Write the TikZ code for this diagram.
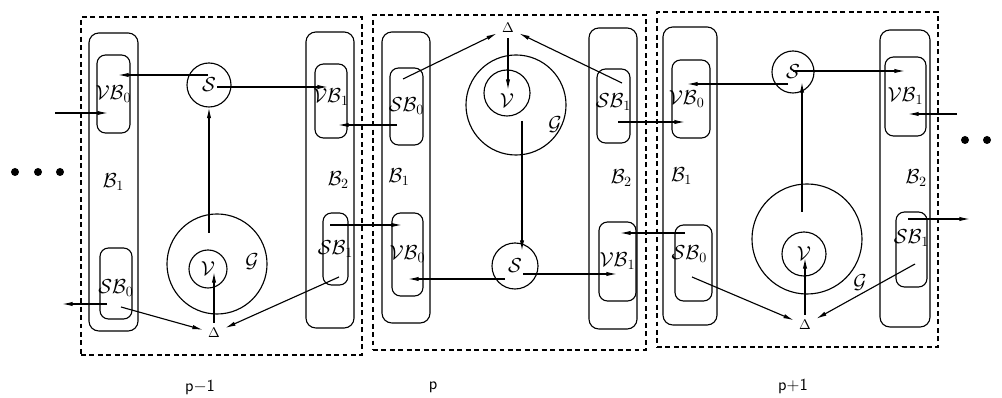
\documentclass[tikz,border=0pt]{standalone}
\usepackage{amsmath,amssymb}
\usepackage{tikz}
\usetikzlibrary{arrows.meta, fit}

\begin{document}
\begin{tikzpicture}[
    x=0.025cm, y=-0.025cm,
    line width=0.8pt,
    panel/.style={draw, dash pattern=on 3.5pt off 2.5pt, line width=0.9pt, inner sep=0pt},
    outer_box/.style={draw, rounded corners=7pt, inner sep=0pt},
    inner_box/.style={draw, rounded corners=6pt, inner sep=0pt},
    ring/.style={circle, draw, inner sep=0pt, minimum size=#1*0.05cm, font=\Large},
    tag/.style={font=\Large, inner sep=0pt},
    every label/.style={font=\Large, inner sep=0pt},
    arrow/.style={-{Latex[length=7.5pt,width=3pt]}},
    dot/.style={circle, fill, inner sep=0pt, minimum size=0.2cm},
    step_lbl/.style={font=\large\sffamily}
]
\useasboundingbox (0,0) rectangle (1002,398);
\clip (0,0) rectangle (1002,398);

% dots at both ends
\node[dot] (dl1) at (15,172) {};
\node[dot] (dl2) at (38,172) {};
\node[dot] (dl3) at (60,172) {};
\node[dot] (dr1) at (965,140) {};
\node[dot] (dr2) at (987,140) {};
\node[dot] (dr3) at (1006,140) {};

% panel p-1
\node[panel, fit={(81,17) (362,355)}] (Pa) {};
\node[outer_box, fit={(89,33) (138,331)}, label=center:{$\mathcal{B}_1$}] (B1a) {};
\node[outer_box, fit={(306,32) (354,328)}, label={[xshift=6pt]center:{$\mathcal{B}_2$}}] (B2a) {};
\node[inner_box, fit={(97,55) (130,133)}, label=center:{$\mathcal{VB}_0$}] (VB0a) {};
\node[inner_box, fit={(100,248) (132,319)}, label={[yshift=-3pt]center:{$\mathcal{SB}_0$}}] (SB0a) {};
\node[inner_box, fit={(315,64) (347,138)}, label={[yshift=3pt]center:{$\mathcal{VB}_1$}}] (VB1a) {};
\node[inner_box, fit={(323,213) (348,285)}, label=center:{$\mathcal{SB}_1$}] (SB1a) {};
\node[ring=22] (Sa) at (209,85) {$\mathcal{S}$};
\node[ring=50] (Ga) at (217,264) {};
\node[ring=19] (Va) at (208,269) {$\mathcal{V}$};
\node[tag] (ga_lbl) at (252,262) {$\mathcal{G}$};
\node (Da) at (214,333) {$\Delta$};
\node[step_lbl] (La) at (200,387) {p$-$1};

\coordinate (s_out0a) at (208,75);  \coordinate (vb0_ina) at (118,75);
\coordinate (s_out1a) at (217,87);  \coordinate (vb1_ina) at (328,87);
\coordinate (g_upa) at (209,233);
\coordinate (v_ina) at (214,272);
\coordinate (sb0_da) at (121,307);
\coordinate (sb1_da) at (339,277);
\coordinate (left_in) at (55,113);  \coordinate (vb0_lefta) at (108,113);
\coordinate (sb0_lefta) at (107,304); \coordinate (left_out) at (62,304);

\draw [arrow] (s_out0a) -- (vb0_ina);
\draw [arrow] (s_out1a) -- (vb1_ina);
\draw [arrow] (g_upa) -- (Sa.south);
\draw [arrow] (Da.north) -- (v_ina);
\draw [arrow] (sb0_da) -- (Da);
\draw [arrow] (sb1_da) -- (Da);
\draw [arrow] (left_in) -- (vb0_lefta);
\draw [arrow] (sb0_lefta) -- (left_out);

% panel p
\node[panel, fit={(373,15) (646,350)}] (Pb) {};
\node[outer_box, fit={(382,32) (430,323)}, label={[xshift=-5pt]center:{$\mathcal{B}_1$}}] (B1b) {};
\node[outer_box, fit={(589,28) (637,329)}, label={[xshift=6pt]center:{$\mathcal{B}_2$}}] (B2b) {};
\node[inner_box, fit={(390,68) (423,145)}, label=center:{$\mathcal{SB}_0$}] (SB0b) {};
\node[inner_box, fit={(392,213) (423,296)}, label=center:{$\mathcal{VB}_0$}] (VB0b) {};
\node[inner_box, fit={(597,69) (630,143)}, label={[yshift=3pt]center:{$\mathcal{SB}_1$}}] (SB1b) {};
\node[inner_box, fit={(599,222) (636,301)}, label=center:{$\mathcal{VB}_1$}] (VB1b) {};
\node (Db) at (508,28) {$\Delta$};
\node[ring=50] (Gb) at (516,105) {};
\node[ring=23] (Vb) at (507,93) {};
\node[tag] (vb_lbl) at (507,101) {$\mathcal{V}$};
\node[tag] (gb_lbl) at (555,125) {$\mathcal{G}$};
\node[ring=23] (Sb) at (515,266) {$\mathcal{S}$};
\node[step_lbl] (Lb) at (433,387) {p};

\coordinate (sb0_db) at (403,79);
\coordinate (sb1_db) at (622,83);
\coordinate (v_inb) at (508,90);
\coordinate (g_downb) at (522,121); \coordinate (s_inb) at (522,251);
\coordinate (s_out0b) at (505,279); \coordinate (vb0_inb) at (408,279);
\coordinate (s_out1b) at (523,274); \coordinate (vb1_inb) at (617,274);
\coordinate (sb0_outb) at (397,125); \coordinate (vb1_rta) at (338,125);
\coordinate (sb1_outa) at (330,225); \coordinate (vb0_ltb) at (402,225);
\coordinate (sb1_outb) at (618,122); \coordinate (vb0_ltc) at (685,122);
\coordinate (sb0_outc) at (685,233); \coordinate (vb1_rtb) at (620,233);

\draw [arrow] (sb0_db) -- (Db);
\draw [arrow] (sb1_db) -- (Db);
\draw [arrow] (Db.south) -- (v_inb);
\draw [arrow] (g_downb) -- (s_inb);
\draw [arrow] (s_out0b) -- (vb0_inb);
\draw [arrow] (s_out1b) -- (vb1_inb);
\draw [arrow] (sb0_outb) -- (vb1_rta);
\draw [arrow] (sb1_outa) -- (vb0_ltb);
\draw [arrow] (sb1_outb) -- (vb0_ltc);
\draw [arrow] (sb0_outc) -- (vb1_rtb);

% panel p+1
\node[panel, fit={(657,12) (938,347)}] (Pc) {};
\node[outer_box, fit={(663,27) (717,325)}, label={[xshift=-6pt]center:{$\mathcal{B}_1$}}] (B1c) {};
\node[outer_box, fit={(880,30) (930,327)}, label={[xshift=8pt]center:{$\mathcal{B}_2$}}] (B2c) {};
\node[inner_box, fit={(672,60) (710,138)}, label={[xshift=-3pt]center:{$\mathcal{VB}_0$}}] (VB0c) {};
\node[inner_box, fit={(675,225) (712,301)}, label={[xshift=-3pt,yshift=6pt]center:{$\mathcal{SB}_0$}}] (SB0c) {};
\node[inner_box, fit={(885,57) (926,136)}, label=center:{$\mathcal{VB}_1$}] (VB1c) {};
\node[inner_box, fit={(896,212) (927,287)}, label={[yshift=8pt]center:{$\mathcal{SB}_1$}}] (SB1c) {};
\node[ring=21] (Sc) at (793,72) {$\mathcal{S}$};
\node[ring=55] (Gc) at (807,239) {};
\node[ring=22] (Vc) at (804,254) {$\mathcal{V}$};
\node[tag] (gc_lbl) at (860,283) {$\mathcal{G}$};
\node (Dc) at (805,325) {$\Delta$};
\node[step_lbl] (Lc) at (793,386) {p+1};

\coordinate (s_out0c) at (788,84);  \coordinate (vb0_inc) at (687,84);
\coordinate (s_out1c) at (793,71);  \coordinate (vb1_inc) at (905,71);
\coordinate (g_upc) at (802,212);   \coordinate (s_inc) at (802,82);
\coordinate (v_inc) at (805,258);
\coordinate (sb0_dc) at (692,277);
\coordinate (sb1_dc) at (915,264);
\coordinate (right_in) at (957,114); \coordinate (vb1_rtc) at (908,114);
\coordinate (sb1_rtc) at (908,219);  \coordinate (right_out) at (970,219);

\draw [arrow] (s_out0c) -- (vb0_inc);
\draw [arrow] (s_out1c) -- (vb1_inc);
\draw [arrow] (g_upc) -- (s_inc);
\draw [arrow] (Dc.north) -- (v_inc);
\draw [arrow] (sb0_dc) -- (Dc);
\draw [arrow] (sb1_dc) -- (Dc);
\draw [arrow] (right_in) -- (vb1_rtc);
\draw [arrow] (sb1_rtc) -- (right_out);
\end{tikzpicture}
\end{document}
